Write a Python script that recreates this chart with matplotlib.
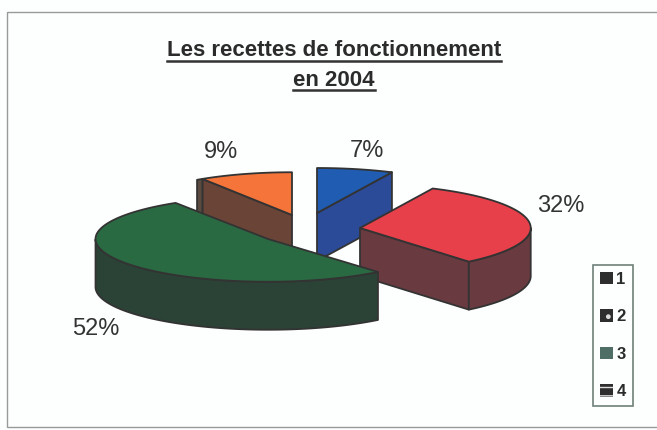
import numpy as np
import matplotlib
matplotlib.use('Agg')
import matplotlib.pyplot as plt
from matplotlib.patches import Polygon, Rectangle, Patch

labels = ['1', '2', '3', '4']
values = [7, 32, 52, 9]
pct_labels = ['7%', '32%', '52%', '9%']

top_colors = ['#1f5cb2', '#e8404a', '#2a6a42', '#f5743a']
wall_colors = ['#2b4a98', '#693a40', '#2b4336', '#6a4436']
legend_colors = ['#2e2e2e', '#2e2e2e', '#4e6e66', '#2e2e2e']
legend_hatch = [None, '.', None, '--']

# ellipse geometry of the fake 3D pie, in pixels
rx, ry, depth = 176, 45, 48
rx_scale = [1.0, 0.97, 0.98, 0.95]
ry_scale = [1.0, 0.97, 0.95, 0.95]
centers = [(317, 213), (360, 228), (268, 239), (292, 215)]
label_pos = [(367, 151), (561, 206), (96, 329), (221, 152)]
edge = '#333333'

plt.rcParams['font.family'] = ['Liberation Sans', 'DejaVu Sans']
fig = plt.figure(figsize=(6.57, 4.30), dpi=100, facecolor='#fdfefe')
ax = fig.add_axes([0, 0, 1, 1])
ax.set_xlim(0, 657)
ax.set_ylim(430, 0)
ax.axis('off')

# page frame
ax.add_patch(Rectangle((7, 12), 660, 415, fill=False, ec='#9a9a9a', lw=1))


def rim(c, t, i):
    t = np.radians(t)
    return np.column_stack([c[0] + rx * rx_scale[i] * np.cos(t),
                            c[1] - ry * ry_scale[i] * np.sin(t)])


def wall(pts):
    low = pts[::-1] + [0, depth]
    return np.vstack([pts, low])


# angles go clockwise from the top, like in Excel
angles = 90 - np.cumsum([0] + values) * 3.6
order = [3, 0, 1, 2]  # back slices first
for i in order:
    a0, a1 = angles[i], angles[i + 1]
    c = np.array(centers[i])
    ts = np.linspace(a0, a1, 120)
    arc = rim(c, ts, i)
    kw = dict(ec=edge, lw=1.3, joinstyle='round')

    # straight walls facing the viewer
    if np.cos(np.radians(a0)) < -0.01:
        ax.add_patch(Polygon(wall(np.vstack([c, rim(c, [a0], i)])), fc=wall_colors[i], **kw))
        # thin strip of rim past the corner, seen because of the perspective
        ax.add_patch(Polygon(wall(rim(c, np.linspace(a0, a0 + 2.2, 8), i)), fc='#5a4a40', **kw))
    if np.cos(np.radians(a1)) > 0.01:
        ax.add_patch(Polygon(wall(np.vstack([c, rim(c, [a1], i)])), fc=wall_colors[i], **kw))

    # round outer wall
    front = np.sin(np.radians(ts)) <= 0
    if front.any():
        ax.add_patch(Polygon(wall(arc[front]), fc=wall_colors[i], **kw))

    ax.add_patch(Polygon(np.vstack([c, arc]), fc=top_colors[i], **kw))

for txt, (x, y) in zip(pct_labels, label_pos):
    ax.text(x, y, txt, fontsize=17, color='#333333', ha='center', va='center')

# title, underlined by hand since matplotlib has no underline
title_lines = ['Les recettes de fonctionnement', 'en 2004']
title_y = [51, 80]
fig.canvas.draw()
inv = ax.transData.inverted()
for line, y in zip(title_lines, title_y):
    t = ax.text(334, y, line, fontsize=16, fontweight='bold', color='#2b2b2b', ha='center', va='center')
    bb = t.get_window_extent(fig.canvas.get_renderer())
    (x0, _), (x1, _) = inv.transform([(bb.x0, bb.y0), (bb.x1, bb.y1)])
    ax.plot([x0, x1], [y + 10, y + 10], color='#333333', lw=1.8)

handles = [Patch(fc=legend_colors[i], ec='#dddddd' if legend_hatch[i] else legend_colors[i],
                 hatch=legend_hatch[i], lw=0) for i in range(4)]
leg = ax.legend(handles, labels, loc='center', bbox_to_anchor=(613 / 657, 1 - 335.5 / 430),
                fontsize=12, handlelength=0.75, handleheight=0.75, handletextpad=0.2,
                labelspacing=1.35, borderpad=0.42, borderaxespad=0, fancybox=False,
                edgecolor='#6f8078', framealpha=1, facecolor='#fdfefe')
leg.get_frame().set_linewidth(1.2)
for t in leg.get_texts():
    t.set_color('#2b2b2b')
    t.set_fontweight('bold')

fig.savefig('out.png', dpi=100, facecolor=fig.get_facecolor())
